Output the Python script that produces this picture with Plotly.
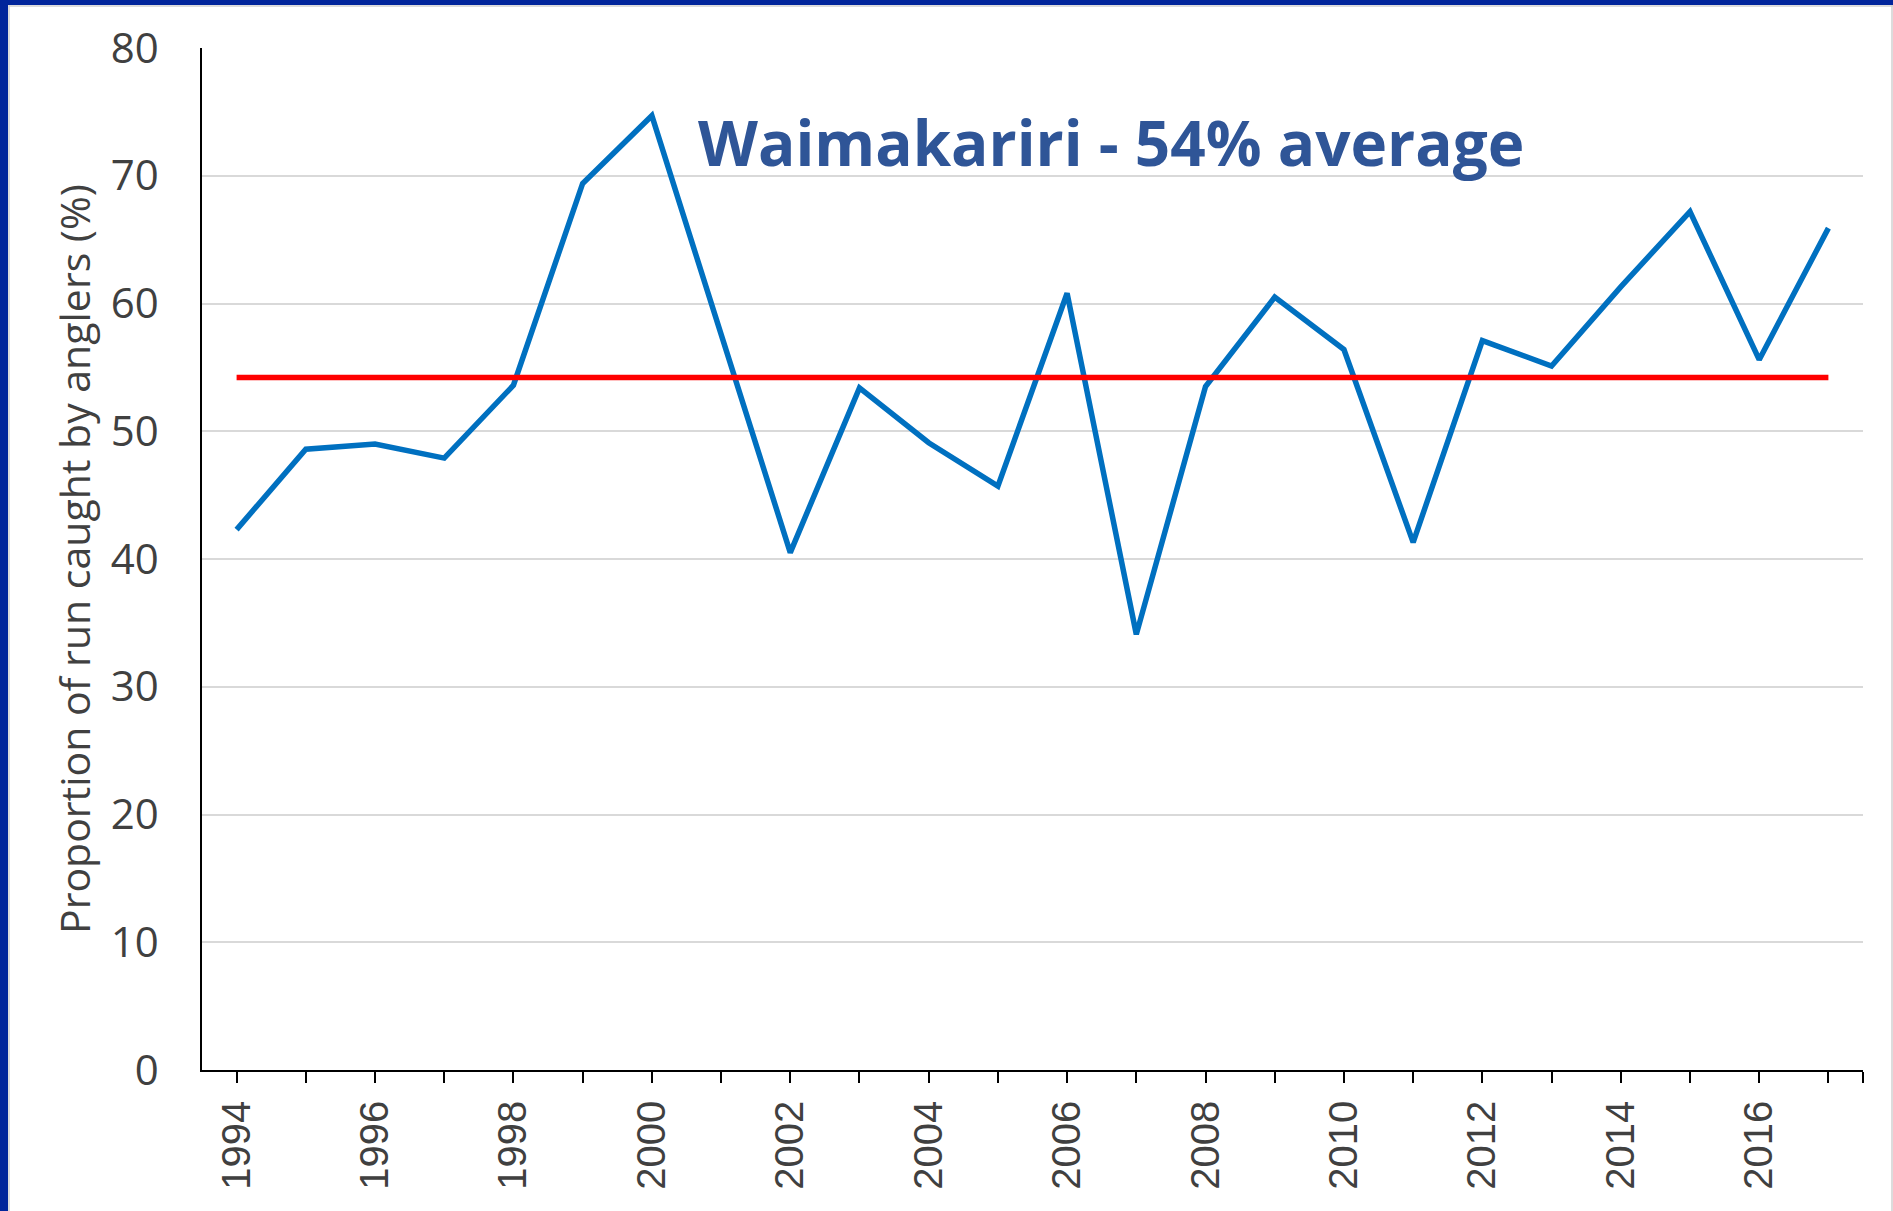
import plotly.graph_objects as go

# Waimakariri - share of the run caught by anglers, 1994-2017
years = list(range(1994, 2018))
catch_pct = [42.3, 48.6, 49.0, 47.9, 53.6, 69.4, 74.7, 57.5, 40.5, 53.4,
             49.1, 45.7, 60.8, 34.1, 53.5, 60.5, 56.4, 41.3, 57.1, 55.1,
             61.3, 67.2, 55.6, 65.9]
avg_pct = 54.2
y_ticks = [0, 10, 20, 30, 40, 50, 60, 70, 80]
title_text = "Waimakariri - 54% average"
y_title = "Proportion of run caught by anglers (%)"

W, H = 1893, 1211
# plot box in pixels (from the reference)
PX_L, PX_R, PX_T, PX_B = 202, 1863, 48, 1070

x_lo, x_hi = years[0] - 0.5, years[-1] + 0.5
tickvals = years + [x_hi]
ticktext = [str(y) if y % 2 == 0 else "" for y in years] + [""]

fig = go.Figure()
fig.add_trace(go.Scatter(
    x=years, y=catch_pct, mode="lines",
    line=dict(color="#0070C0", width=5.5), hoverinfo="skip", showlegend=False,
))
fig.add_trace(go.Scatter(
    x=[years[0], years[-1]], y=[avg_pct, avg_pct], mode="lines",
    line=dict(color="#FF0000", width=5.5), hoverinfo="skip", showlegend=False,
))

# title inside the plot
fig.add_annotation(
    x=1111 / W, y=1 - 142 / H, xref="paper", yref="paper",
    text=f"<b>{title_text}</b>", showarrow=False,
    font=dict(family="Open Sans", size=62, color="#2F5597"),
    xanchor="center", yanchor="middle",
)
# y axis title
fig.add_annotation(
    x=74 / W, y=1 - 559 / H, xref="paper", yref="paper",
    text=y_title, showarrow=False, textangle=-90,
    font=dict(family="Open Sans", size=41, color="#404040"),
    xanchor="center", yanchor="middle",
)

# slide frame: blue bars top/left, thin grey edges
fig.add_shape(type="rect", xref="paper", yref="paper", x0=0, x1=1, y0=1 - 5 / H, y1=1,
              fillcolor="#01259B", line_width=0, layer="above")
fig.add_shape(type="rect", xref="paper", yref="paper", x0=0, x1=8 / W, y0=0, y1=1,
              fillcolor="#01259B", line_width=0, layer="above")
fig.add_shape(type="line", xref="paper", yref="paper", x0=9 / W, x1=9 / W, y0=0, y1=1 - 5 / H,
              line=dict(color="#D0D0D0", width=1.5))
fig.add_shape(type="line", xref="paper", yref="paper", x0=9 / W, x1=1, y0=1 - 6 / H, y1=1 - 6 / H,
              line=dict(color="#D0D0D0", width=1.5))
fig.add_shape(type="line", xref="paper", yref="paper", x0=1 - 1 / W, x1=1 - 1 / W, y0=0, y1=1 - 5 / H,
              line=dict(color="#D0D0D0", width=1.5))

fig.update_layout(
    template="none",
    width=W, height=H,
    margin=dict(l=0, r=0, t=0, b=0),
    paper_bgcolor="white", plot_bgcolor="white",
    xaxis=dict(
        domain=[PX_L / W, PX_R / W], range=[x_lo, x_hi],
        tickmode="array", tickvals=tickvals, ticktext=ticktext,
        tickangle=-90, ticks="outside", ticklen=11, tickwidth=1.5, tickcolor="black",
        showline=True, linecolor="black", linewidth=1.5, showgrid=False, zeroline=False,
        tickfont=dict(family="Liberation Sans", size=40, color="#404040"),
        ticklabelstandoff=2, automargin=False,
    ),
    yaxis=dict(
        domain=[1 - PX_B / H, 1 - PX_T / H], range=[0, 80],
        tickmode="array", tickvals=y_ticks,
        ticks="", showline=True, linecolor="black", linewidth=1.5,
        showgrid=True, gridcolor="#D9D9D9", gridwidth=1.5, zeroline=False,
        tickfont=dict(family="Open Sans", size=42, color="#404040"),
        ticklabelstandoff=33, automargin=False,
    ),
)

# drop the browser's default body margin so the figure fills the window
fig.write_html("out.html", config={"displayModeBar": False},
               post_script="document.body.style.margin='0';document.body.style.overflow='hidden';")
